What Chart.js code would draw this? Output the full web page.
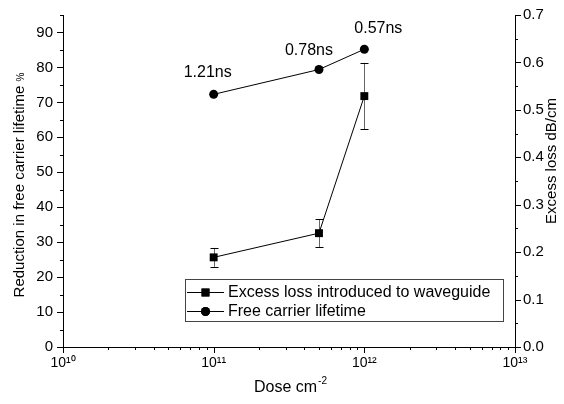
<!DOCTYPE html>
<html>
<head>
<meta charset="utf-8">
<script src="https://cdn.jsdelivr.net/npm/chart.js@4.4.1/dist/chart.umd.min.js"></script>
<style>
html,body{margin:0;padding:0;background:#fff;}
#wrap{width:564px;height:404px;}
</style>
</head>
<body>
<div id="wrap"><canvas id="c" width="564" height="404"></canvas></div>
<script>
// ---- data ----
const doses = [1e11, 5e11, 1e12];                 // Dose cm^-2
const lifetimeReduction = [72.3, 79.4, 85.2];     // % (left axis)
const lifetimeLabels = ['1.21ns', '0.78ns', '0.57ns'];
const excessLoss = [0.189, 0.240, 0.529];         // dB/cm (right axis)
const excessLossErr = [0.020, 0.029, 0.070];
const seriesNames = ['Excess loss introduced to waveguide', 'Free carrier lifetime'];
const xDecades = [10, 11, 12, 13];
const xTickLabels = ['10\u00B9\u2070', '10\u00B9\u00B9', '10\u00B9\u00B2', '10\u00B9\u00B3'];
const leftTickLabels = ['0','10','20','30','40','50','60','70','80','90'];
const rightTickLabels = ['0.0','0.1','0.2','0.3','0.4','0.5','0.6','0.7'];

const FONT = "'Liberation Sans', Arial, sans-serif";
const labelOffsets = [[-6,-22],[-10,-19],[14,-21]];

const custom = {
  id: 'custom',
  beforeDatasetsDraw(chart) {
    const ctx = chart.ctx, xs = chart.scales.x, yr = chart.scales.y1;
    ctx.save();
    ctx.lineWidth = 1;
    doses.forEach((d, i) => {
      const x = Math.round(xs.getPixelForValue(d)) + 0.5;
      const yt = yr.getPixelForValue(excessLoss[i] + excessLossErr[i]);
      const yb = yr.getPixelForValue(excessLoss[i] - excessLossErr[i]);
      ctx.strokeStyle = '#666';
      ctx.beginPath(); ctx.moveTo(x, yt); ctx.lineTo(x, yb); ctx.stroke();
      ctx.strokeStyle = '#000';
      ctx.beginPath();
      ctx.moveTo(x - 4, Math.round(yt) + 0.5); ctx.lineTo(x + 4, Math.round(yt) + 0.5);
      ctx.moveTo(x - 4, Math.round(yb) + 0.5); ctx.lineTo(x + 4, Math.round(yb) + 0.5);
      ctx.stroke();
    });
    ctx.restore();
  },
  afterDraw(chart) {
    const ctx = chart.ctx, xs = chart.scales.x, yl = chart.scales.y, yr = chart.scales.y1;
    const a = chart.chartArea;
    ctx.save();
    ctx.strokeStyle = '#000';
    ctx.lineWidth = 1;
    // tick marks
    ctx.beginPath();
    xs.ticks.forEach(t => {
      const x = Math.round(xs.getPixelForValue(t.value)) + 0.5;
      const len = t.major ? 6 : 3;
      ctx.moveTo(x, a.bottom); ctx.lineTo(x, a.bottom + len);
    });
    yl.ticks.forEach(t => {
      const y = Math.round(yl.getPixelForValue(t.value)) + 0.5;
      const len = t.major ? 6 : 3;
      ctx.moveTo(a.left, y); ctx.lineTo(a.left - len, y);
    });
    yr.ticks.forEach(t => {
      const y = Math.round(yr.getPixelForValue(t.value)) + 0.5;
      const len = t.major ? 6 : 3;
      ctx.moveTo(a.right, y); ctx.lineTo(a.right + len, y);
    });
    ctx.stroke();

    // axis titles
    ctx.fillStyle = '#000';
    ctx.textBaseline = 'alphabetic';
    // left
    ctx.save();
    ctx.translate(24, 185);
    ctx.rotate(-Math.PI / 2);
    ctx.font = '15px ' + FONT;
    const mainL = 'Reduction in free carrier lifetime ';
    const wMain = ctx.measureText(mainL).width;
    ctx.font = '10px ' + FONT;
    const wPct = ctx.measureText('%').width;
    const startL = -(wMain + wPct) / 2;
    ctx.font = '15px ' + FONT;
    ctx.textAlign = 'left';
    ctx.fillText(mainL, startL, 0);
    ctx.font = '10px ' + FONT;
    ctx.fillText('%', startL + wMain, 0);
    ctx.restore();
    // right
    ctx.save();
    ctx.translate(556, 161);
    ctx.rotate(-Math.PI / 2);
    ctx.font = '15px ' + FONT;
    ctx.textAlign = 'center';
    ctx.fillText('Excess loss dB/cm', 0, 0);
    ctx.restore();
    // bottom
    ctx.font = '16px ' + FONT;
    const mainX = 'Dose cm';
    const wX = ctx.measureText(mainX).width;
    ctx.font = '10px ' + FONT;
    const wSup = ctx.measureText('-2').width;
    const sx = 290 - (wX + wSup) / 2;
    ctx.textAlign = 'left';
    ctx.font = '16px ' + FONT;
    ctx.fillText(mainX, sx, 392);
    ctx.font = '10px ' + FONT;
    ctx.fillText('-2', sx + wX + 1, 384);

    // annotations
    const meta = chart.getDatasetMeta(1);
    ctx.font = '16px ' + FONT;
    ctx.textAlign = 'center';
    ctx.textBaseline = 'middle';
    meta.data.forEach((el, i) => {
      ctx.fillText(lifetimeLabels[i], el.x + labelOffsets[i][0], el.y + labelOffsets[i][1]);
    });

    // legend
    const lx = 185.5, ly = 279.5, lw = 318, lh = 42;
    ctx.strokeStyle = '#444';
    ctx.strokeRect(lx, ly, lw, lh);
    const rows = [292, 311];
    chart.data.datasets.forEach((ds, i) => {
      const y = rows[i] + 0.5;
      ctx.strokeStyle = '#000';
      ctx.lineWidth = 1;
      ctx.beginPath(); ctx.moveTo(187, y); ctx.lineTo(224, y); ctx.stroke();
      ctx.fillStyle = '#000';
      Chart.helpers.drawPoint(ctx, {pointStyle: ds.pointStyle, radius: ds.pointRadius, rotation: 0, borderWidth: 0}, 205.5, y);
      ctx.fill();
      ctx.fillStyle = '#000';
      ctx.font = '16px ' + FONT;
      ctx.textAlign = 'left';
      ctx.textBaseline = 'middle';
      ctx.fillText(ds.label, 228, y);
    });
    ctx.restore();
  }
};

const xTickValues = [];
for (let e = xDecades[0]; e < xDecades[xDecades.length - 1]; e++) {
  for (let m = 1; m <= 9; m++) xTickValues.push(m * Math.pow(10, e));
}
xTickValues.push(Math.pow(10, xDecades[xDecades.length - 1]));

new Chart(document.getElementById('c'), {
  type: 'line',
  data: {
    datasets: [
      {
        label: seriesNames[0],
        data: doses.map((d, i) => ({x: d, y: excessLoss[i]})),
        yAxisID: 'y1',
        borderColor: '#000', backgroundColor: '#000', borderWidth: 1,
        pointStyle: 'rect', pointRadius: 5.6, pointHoverRadius: 5.6,
        pointBorderWidth: 0, tension: 0
      },
      {
        label: seriesNames[1],
        data: doses.map((d, i) => ({x: d, y: lifetimeReduction[i]})),
        yAxisID: 'y',
        borderColor: '#000', backgroundColor: '#000', borderWidth: 1,
        pointStyle: 'circle', pointRadius: 4.5, pointHoverRadius: 4.5,
        pointBorderWidth: 0, tension: 0
      }
    ]
  },
  options: {
    responsive: false,
    animation: false,
    events: [],
    layout: {padding: {top: 15, left: 0, right: 0, bottom: 0}},
    plugins: {legend: {display: false}, tooltip: {enabled: false}},
    scales: {
      x: {
        type: 'logarithmic',
        min: 1e10, max: 1e13,
        afterBuildTicks: s => {
          s.ticks = xTickValues.map(v => ({value: v, major: Math.abs(Math.log10(v) - Math.round(Math.log10(v))) < 1e-9}));
        },
        afterFit: s => { s.height = 57; s.paddingLeft = 0; s.paddingRight = 0; },
        border: {display: true, color: '#000', width: 1},
        grid: {display: false, drawTicks: false},
        ticks: {
          autoSkip: false, maxRotation: 0, padding: 8,
          color: '#000', font: {family: FONT, size: 14},
          callback: function (v) {
            const lg = Math.log10(v);
            if (Math.abs(lg - Math.round(lg)) < 1e-9) {
              const idx = xDecades.indexOf(Math.round(lg));
              return idx >= 0 ? xTickLabels[idx] : '';
            }
            return '';
          }
        }
      },
      y: {
        position: 'left',
        min: 0, max: 95,
        afterBuildTicks: s => {
          const t = [];
          for (let i = 0; i <= 19; i++) t.push({value: i * 5, major: i % 2 === 0});
          s.ticks = t;
        },
        afterFit: s => { s.width = 63; s.paddingTop = 0; s.paddingBottom = 0; },
        border: {display: true, color: '#000', width: 1},
        grid: {display: false, drawTicks: false},
        ticks: {
          autoSkip: false, padding: 10,
          color: '#000', font: {family: FONT, size: 15},
          callback: function (v) {
            const r = Math.round(v);
            return (r % 10 === 0) ? (leftTickLabels[r / 10] || '') : '';
          }
        }
      },
      y1: {
        position: 'right',
        min: 0, max: 0.7,
        afterBuildTicks: s => {
          const t = [];
          for (let i = 0; i <= 14; i++) t.push({value: Math.round(i * 5) / 100, major: i % 2 === 0});
          s.ticks = t;
        },
        afterFit: s => { s.width = 49; s.paddingTop = 0; s.paddingBottom = 0; },
        border: {display: true, color: '#000', width: 1},
        grid: {display: false, drawTicks: false},
        ticks: {
          autoSkip: false, padding: 8,
          color: '#000', font: {family: FONT, size: 15},
          callback: function (v) {
            const i = Math.round(v * 100);
            return (i % 10 === 0) ? (rightTickLabels[i / 10] || '') : '';
          }
        }
      }
    }
  },
  plugins: [custom]
});
</script>
</body>
</html>
